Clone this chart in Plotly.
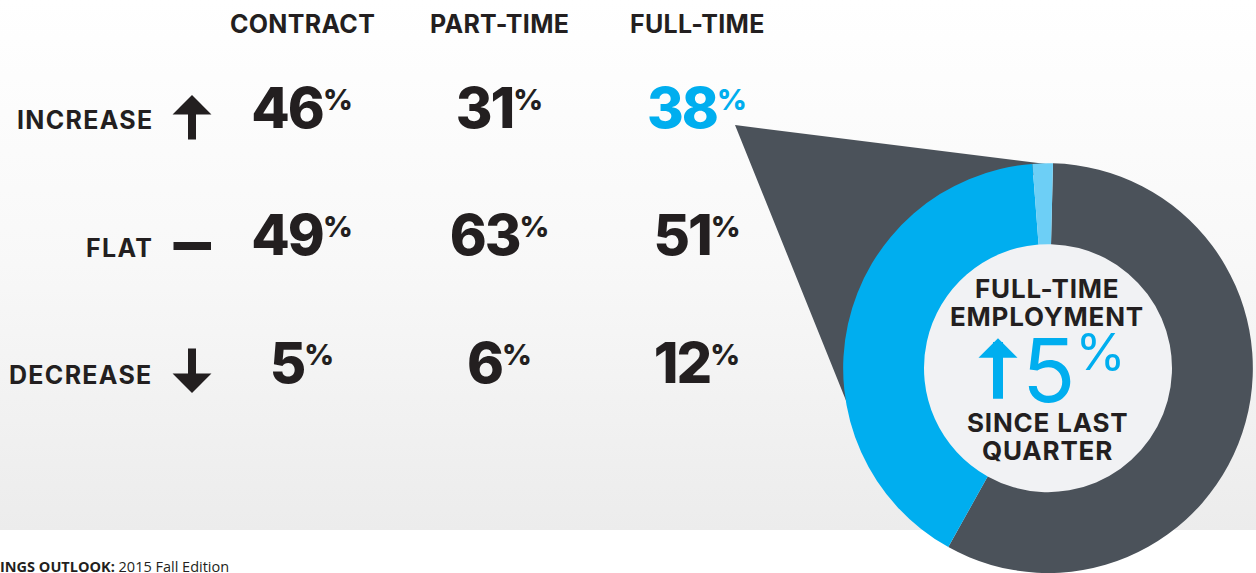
import math
import plotly.graph_objects as go

# ---------------- data ----------------
columns = ["CONTRACT", "PART-TIME", "FULL-TIME"]
rows = ["INCREASE", "FLAT", "DECREASE"]
contract_pct = [46, 49, 5]
part_time_pct = [31, 63, 6]
full_time_pct = [38, 51, 12]
highlight_cell = ("FULL-TIME", "INCREASE")

donut_labels = ["Other", "Full-time increase", "Gain since last quarter"]
donut_values = [57.7, 40.7, 1.6]
donut_start_deg = 1.4

center_top = ["FULL-TIME", "EMPLOYMENT"]
center_change = 5
center_bottom = ["SINCE LAST", "QUARTER"]
footer_bold = "INGS OUTLOOK:"
footer_text = " 2015 Fall Edition"

# ---------------- style / layout constants ----------------
W, H = 1256, 573
DARK = "#231f20"
BLUE = "#00aeef"
LIGHT_BLUE = "#6dcff6"
GRAY = "#4b525a"
INNER = "#f1f2f4"
FONT = "Inter"

COL0, COL_STEP = 302, 197.5          # pixel x of first column, spacing
BASE0, ROW_STEP = 132, 127.75        # baseline of first row, spacing
NUM_FONT = 43
A0 = BASE0 - 0.35 * NUM_FONT         # text anchor of first row

PIE_X = [(1048 - 206) / W, (1048 + 206) / W]
PIE_Y = [0.0, 0.715]
PIE_R = min((PIE_X[1] - PIE_X[0]) * W, (PIE_Y[1] - PIE_Y[0]) * H) / 2
CX = (PIE_X[0] + PIE_X[1]) / 2 * W
CY = H - (PIE_Y[0] + PIE_Y[1]) / 2 * H
HOLE = 124 / PIE_R
BG_BOTTOM = 530


def spaced(s, px=1.2):
    return f"<span style='letter-spacing:{px}px'>{s}</span>"


fig = go.Figure()

# background gradient panel
fig.add_trace(go.Scatter(
    x=[0, W, W, 0, 0], y=[0, 0, BG_BOTTOM, BG_BOTTOM, 0],
    mode="lines", line=dict(width=0), fill="toself",
    fillgradient=dict(type="vertical", start=0, stop=BG_BOTTOM,
                      colorscale=[[0, "#ffffff"], [0.5, "#f8f8f8"], [1, "#ececec"]]),
    hoverinfo="skip", showlegend=False, xaxis="x", yaxis="y"))

# callout wedge from the highlighted value to the donut
tip = (735, 125)
def polar(theta_deg, rho):
    t = math.radians(theta_deg)
    return CX + rho * math.sin(t), CY - rho * math.cos(t)
p1 = (CX, CY - PIE_R + 1)
p2 = polar(-45, 165)
p3 = (CX - 186, CY + 72)
wx = [tip[0], p1[0], p2[0], p3[0], tip[0]]
wy = [tip[1], p1[1], p2[1], p3[1], tip[1]]
fig.add_trace(go.Scatter(x=wx, y=wy, mode="lines", line=dict(width=0), fill="toself",
                         fillcolor=GRAY, hoverinfo="skip", showlegend=False,
                         xaxis="x", yaxis="y"))

# inner disc colour (under the transparent hole)
rin = HOLE * PIE_R + 3
cx_ = [CX + rin * math.cos(2 * math.pi * k / 180) for k in range(181)]
cy_ = [CY + rin * math.sin(2 * math.pi * k / 180) for k in range(181)]
fig.add_trace(go.Scatter(x=cx_, y=cy_, mode="lines", line=dict(width=0), fill="toself",
                         fillcolor=INNER, hoverinfo="skip", showlegend=False,
                         xaxis="x", yaxis="y"))

# table of percentages
series = {"CONTRACT": contract_pct, "PART-TIME": part_time_pct, "FULL-TIME": full_time_pct}
tx, ty, tt, tc = [], [], [], []
for c in columns:
    for r, v in zip(rows, series[c]):
        tx.append(c)
        ty.append(r)
        tt.append(f"<span style='font-size:56px;letter-spacing:-2px'>{v}</span><sup><span style='font-size:29px'>%</span></sup>")
        tc.append(BLUE if (c, r) == highlight_cell else DARK)
fig.add_trace(go.Scatter(x=tx, y=ty, mode="text", text=tt, textposition="middle center",
                         textfont=dict(family=FONT, size=NUM_FONT, color=tc, weight=800),
                         hoverinfo="skip", showlegend=False, xaxis="x2", yaxis="y2"))

# donut
fig.add_trace(go.Pie(labels=donut_labels, values=donut_values, sort=False,
                     direction="clockwise", rotation=donut_start_deg, hole=HOLE,
                     marker=dict(colors=[GRAY, BLUE, LIGHT_BLUE], line=dict(width=0)),
                     textinfo="none", hoverinfo="label+value",
                     domain=dict(x=PIE_X, y=PIE_Y), showlegend=False))

ann = []
hdr_font = dict(family=FONT, size=25, color=DARK, weight=700)
for c in columns:
    ann.append(dict(x=c, xref="x2", y=24, yref="y", text=spaced(c, 0.3), showarrow=False,
                    xanchor="center", yanchor="middle", font=hdr_font))
for r in rows:
    ann.append(dict(x=155, xref="x", y=r, yref="y2", text=spaced(r, 1.3), showarrow=False,
                    xanchor="right", yanchor="middle", yshift=-3, font=hdr_font))

# row icons
ann.append(dict(x=192, y=95, xref="x", yref="y", text="", showarrow=True, ax=0, ay=46,
                arrowhead=1, arrowsize=0.81, arrowwidth=8, arrowcolor=DARK, standoff=0))
ann.append(dict(x=211, y=246, xref="x", yref="y", text="", showarrow=True, ax=-39, ay=0,
                arrowhead=0, arrowwidth=8, arrowcolor=DARK, standoff=0))
ann.append(dict(x=192, y=393, xref="x", yref="y", text="", showarrow=True, ax=0, ay=-46,
                arrowhead=1, arrowsize=0.81, arrowwidth=8, arrowcolor=DARK, standoff=0))

# donut centre text
ctr_font = dict(family=FONT, size=26, color=DARK, weight=700)
for i, s in enumerate(center_top):
    ann.append(dict(x=CX - 1, y=CY - 80 + 28 * i, xref="x", yref="y", text=spaced(s, 0.8),
                    showarrow=False, xanchor="center", yanchor="middle", font=ctr_font))
for i, s in enumerate(center_bottom):
    ann.append(dict(x=CX - 1, y=CY + 54 + 28 * i, xref="x", yref="y", text=spaced(s, 0.8),
                    showarrow=False, xanchor="center", yanchor="middle", font=ctr_font))
ann.append(dict(x=CX - 28, y=CY + 2, xref="x", yref="y",
                text=f"<span style='font-size:88px'>{center_change}</span><sup><span style='font-size:51px'>%</span></sup>",
                showarrow=False, xanchor="left", yanchor="middle",
                font=dict(family=FONT, size=76, color=BLUE, weight=400)))
ann.append(dict(x=CX - 50, y=CY - 30, xref="x", yref="y", text="", showarrow=True, ax=0, ay=62,
                arrowhead=1, arrowsize=0.65, arrowwidth=10, arrowcolor=BLUE, standoff=0))

# footer
ann.append(dict(x=0, y=0, xref="paper", yref="paper", xanchor="left", yanchor="bottom",
                xshift=-2, yshift=-5, showarrow=False,
                text=f"<b>{footer_bold}</b>{footer_text}",
                font=dict(family="Open Sans", size=14.5, color=DARK)))

fig.update_layout(
    width=W, height=H, margin=dict(l=0, r=0, t=0, b=0),
    paper_bgcolor="white", plot_bgcolor="rgba(0,0,0,0)",
    showlegend=False, annotations=ann,
    xaxis=dict(range=[0, W], visible=False, domain=[0, 1], fixedrange=True),
    yaxis=dict(range=[H, 0], visible=False, domain=[0, 1], fixedrange=True),
    xaxis2=dict(type="category", categoryorder="array", categoryarray=columns,
                range=[-COL0 / COL_STEP, (W - COL0) / COL_STEP], overlaying="x",
                anchor="y2", visible=False, fixedrange=True),
    yaxis2=dict(type="category", categoryorder="array", categoryarray=rows,
                range=[(H - A0) / ROW_STEP, -A0 / ROW_STEP], overlaying="y",
                anchor="x2", visible=False, fixedrange=True),
)

fig.write_html("out.html", config={"displayModeBar": False},
               post_script="document.body.style.margin='0';document.body.style.overflow='hidden';")
